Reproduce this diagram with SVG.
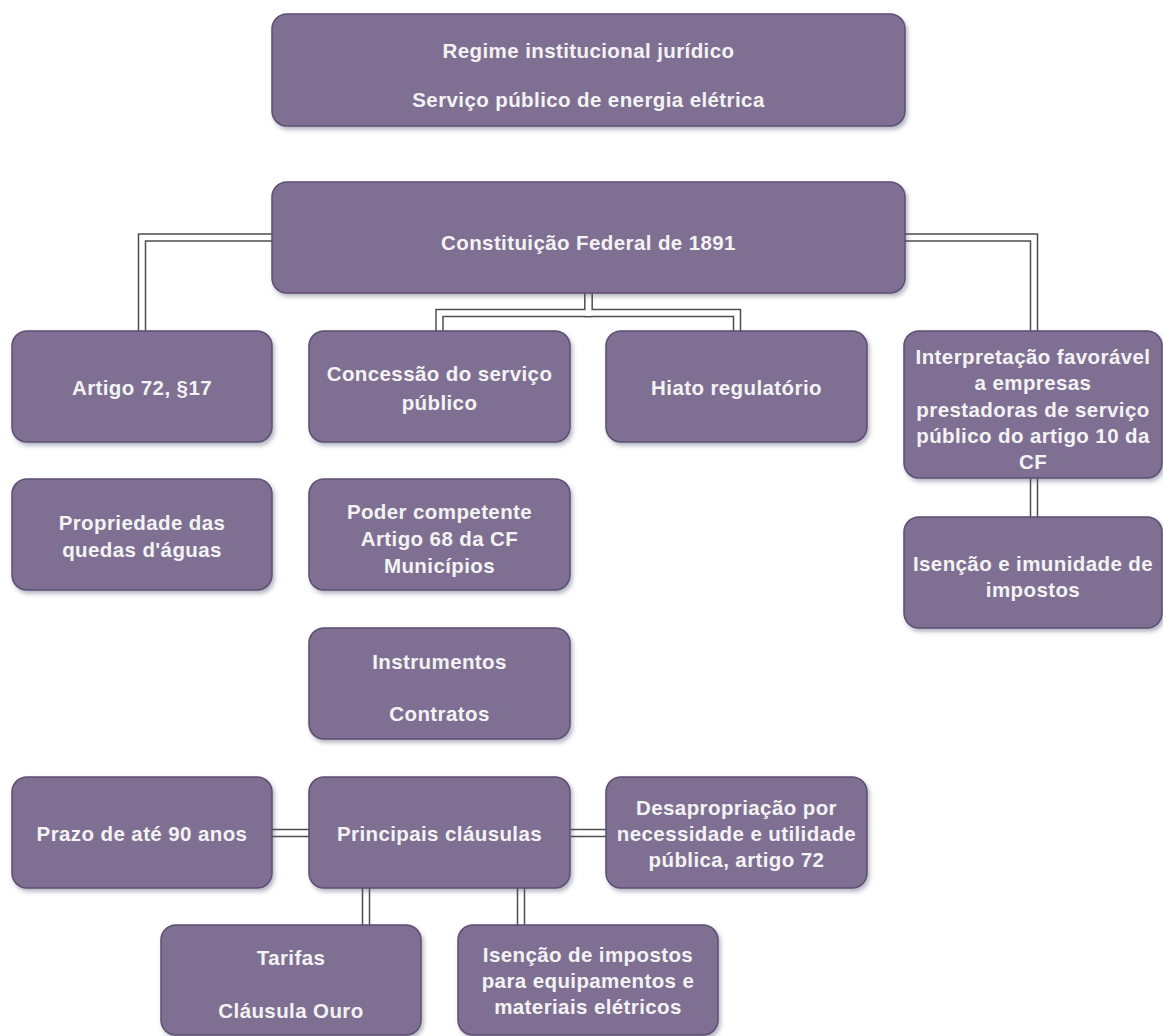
<svg xmlns="http://www.w3.org/2000/svg" width="1163" height="1036" viewBox="0 0 1163 1036">
  <defs>
    <filter id="shadow" x="-10%" y="-10%" width="125%" height="135%">
      <feDropShadow dx="2" dy="3" stdDeviation="2" flood-color="#3c4a68" flood-opacity="0.4"/>
    </filter>
    <style>
      .box { fill: #7f6f93; stroke: #5e4f72; stroke-width: 1.5; filter: url(#shadow); }
      .lbl { font-family: "Liberation Sans", Arial, sans-serif; font-size: 20.5px; font-weight: bold; fill: #f3f3f3; text-anchor: middle; letter-spacing: 0.4px; }
      .pipe-out { fill: none; stroke: #4e4e4e; stroke-width: 8.5; stroke-linejoin: miter; }
      .pipe-in { fill: none; stroke: #ffffff; stroke-width: 5.5; stroke-linejoin: miter; }
    </style>
  </defs>
  <rect width="1163" height="1036" fill="#ffffff"/>

  <!-- double-line connectors -->
  <g id="connectors">
    <g class="pipe-out">
      <path d="M272,237.5 H142 V331"/>
      <path d="M905,237.5 H1034 V331"/>
      <path d="M588.5,293 V313 H439.5 V331"/>
      <path d="M588.5,293 V313 H737 V331"/>
      <path d="M1034,478 V517"/>
      <path d="M309,833 H272"/>
      <path d="M571,833 H606"/>
      <path d="M366,888 V925"/>
      <path d="M521,888 V925"/>
    </g>
    <g class="pipe-in">
      <path d="M272,237.5 H142 V331"/>
      <path d="M905,237.5 H1034 V331"/>
      <path d="M588.5,293 V313 H439.5 V331"/>
      <path d="M588.5,293 V313 H737 V331"/>
      <path d="M1034,478 V517"/>
      <path d="M309,833 H272"/>
      <path d="M571,833 H606"/>
      <path d="M366,888 V925"/>
      <path d="M521,888 V925"/>
    </g>
  </g>

  <g id="regime">
    <rect class="box" x="272" y="14" width="633" height="112" rx="15"/>
    <text class="lbl" x="588.5" y="58">Regime institucional jurídico</text>
    <text class="lbl" x="588.5" y="107">Serviço público de energia elétrica</text>
  </g>

  <g id="constituicao">
    <rect class="box" x="272" y="182" width="633" height="111" rx="15"/>
    <text class="lbl" x="588.5" y="250">Constituição Federal de 1891</text>
  </g>

  <g id="artigo72">
    <rect class="box" x="12" y="331" width="260" height="111" rx="15"/>
    <text class="lbl" x="142" y="395">Artigo 72, §17</text>
  </g>

  <g id="concessao">
    <rect class="box" x="309" y="331" width="261" height="111" rx="15"/>
    <text class="lbl" x="439.5" y="381">Concessão do serviço</text>
    <text class="lbl" x="439.5" y="410">público</text>
  </g>

  <g id="hiato">
    <rect class="box" x="606" y="331" width="261" height="111" rx="15"/>
    <text class="lbl" x="736.5" y="395">Hiato regulatório</text>
  </g>

  <g id="interpretacao">
    <rect class="box" x="904" y="331" width="258" height="147" rx="15"/>
    <text class="lbl" x="1033" y="364">Interpretação favorável</text>
    <text class="lbl" x="1033" y="390">a empresas</text>
    <text class="lbl" x="1033" y="417">prestadoras de serviço</text>
    <text class="lbl" x="1033" y="443">público do artigo 10 da</text>
    <text class="lbl" x="1033" y="469">CF</text>
  </g>

  <g id="propriedade">
    <rect class="box" x="12" y="479" width="260" height="111" rx="15"/>
    <text class="lbl" x="142" y="530">Propriedade das</text>
    <text class="lbl" x="142" y="557">quedas d'águas</text>
  </g>

  <g id="poder">
    <rect class="box" x="309" y="479" width="261" height="111" rx="15"/>
    <text class="lbl" x="439.5" y="519">Poder competente</text>
    <text class="lbl" x="439.5" y="546">Artigo 68 da CF</text>
    <text class="lbl" x="439.5" y="573">Municípios</text>
  </g>

  <g id="isencao-imunidade">
    <rect class="box" x="904" y="517" width="258" height="111" rx="15"/>
    <text class="lbl" x="1033" y="571">Isenção e imunidade de</text>
    <text class="lbl" x="1033" y="597">impostos</text>
  </g>

  <g id="instrumentos">
    <rect class="box" x="309" y="628" width="261" height="111" rx="15"/>
    <text class="lbl" x="439.5" y="669">Instrumentos</text>
    <text class="lbl" x="439.5" y="721">Contratos</text>
  </g>

  <g id="prazo">
    <rect class="box" x="12" y="777" width="260" height="111" rx="15"/>
    <text class="lbl" x="142" y="841">Prazo de até 90 anos</text>
  </g>

  <g id="clausulas">
    <rect class="box" x="309" y="777" width="261" height="111" rx="15"/>
    <text class="lbl" x="439.5" y="841">Principais cláusulas</text>
  </g>

  <g id="desapropriacao">
    <rect class="box" x="606" y="777" width="261" height="111" rx="15"/>
    <text class="lbl" x="736.5" y="815">Desapropriação por</text>
    <text class="lbl" x="736.5" y="841">necessidade e utilidade</text>
    <text class="lbl" x="736.5" y="867">pública, artigo 72</text>
  </g>

  <g id="tarifas">
    <rect class="box" x="161" y="925" width="260" height="110" rx="15"/>
    <text class="lbl" x="291" y="965">Tarifas</text>
    <text class="lbl" x="291" y="1018">Cláusula Ouro</text>
  </g>

  <g id="isencao-impostos">
    <rect class="box" x="458" y="925" width="260" height="110" rx="15"/>
    <text class="lbl" x="588" y="962">Isenção de impostos</text>
    <text class="lbl" x="588" y="988">para equipamentos e</text>
    <text class="lbl" x="588" y="1014">materiais elétricos</text>
  </g>
</svg>
